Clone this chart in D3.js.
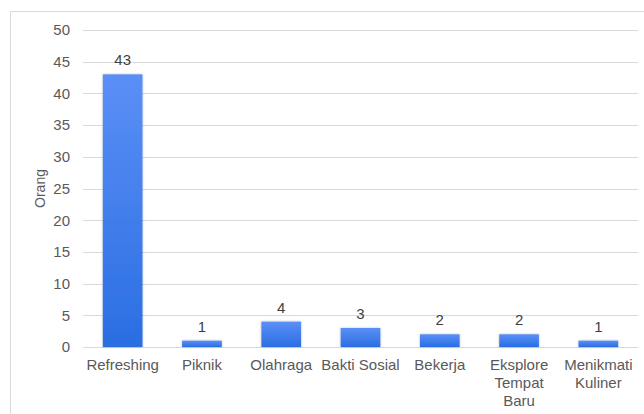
<!DOCTYPE html>
<html>
<head>
<meta charset="utf-8">
<script src="https://cdn.jsdelivr.net/npm/d3@7"></script>
<style>
  body { margin: 0; background: #fff; }
  text { font-family: "Liberation Sans", Arial, sans-serif; }
</style>
</head>
<body>
<svg id="chart"></svg>
<script>
// Data
const categories = ["Refreshing", "Piknik", "Olahraga", "Bakti Sosial", "Bekerja", "Eksplore Tempat Baru", "Menikmati Kuliner"];
const labelLines = [["Refreshing"], ["Piknik"], ["Olahraga"], ["Bakti Sosial"], ["Bekerja"], ["Eksplore", "Tempat", "Baru"], ["Menikmati", "Kuliner"]];
const values = [43, 1, 4, 3, 2, 2, 1];
const yTicks = [0, 5, 10, 15, 20, 25, 30, 35, 40, 45, 50];

const W = 644, H = 414;
const margin = { top: 30, right: 6, bottom: 67, left: 83 };
const width = W - margin.left - margin.right;
const height = H - margin.top - margin.bottom;

const svg = d3.select("#chart").attr("width", W).attr("height", H);

// gradient + shadow
const defs = svg.append("defs");
const grad = defs.append("linearGradient")
    .attr("id", "barGrad")
    .attr("x1", 0).attr("y1", 0).attr("x2", 0).attr("y2", 1);
grad.append("stop").attr("offset", "0%").attr("stop-color", "#5b8ff6");
grad.append("stop").attr("offset", "100%").attr("stop-color", "#2a6ee2");

const shadow = defs.append("filter").attr("id", "shadow")
    .attr("x", "-20%").attr("y", "-20%").attr("width", "140%").attr("height", "140%");
shadow.append("feDropShadow")
    .attr("dx", 0).attr("dy", 0).attr("stdDeviation", 1.2)
    .attr("flood-color", "#000").attr("flood-opacity", 0.3);

// outer border
svg.append("rect")
    .attr("x", 10.5).attr("y", 11.5)
    .attr("width", W + 10).attr("height", H + 10)
    .attr("fill", "none").attr("stroke", "#d9d9d9");

const g = svg.append("g").attr("transform", `translate(${margin.left},${margin.top})`);

const x = d3.scaleBand().domain(categories).range([0, width]).padding(0.5).paddingOuter(0.25);
const y = d3.scaleLinear().domain([0, 50]).range([height, 0]);

// grid lines
g.append("g")
  .selectAll("line")
  .data(yTicks)
  .join("line")
    .attr("x1", 0).attr("x2", width)
    .attr("y1", d => Math.round(y(d)) + 0.5)
    .attr("y2", d => Math.round(y(d)) + 0.5)
    .attr("stroke", "#d9d9d9");

// y axis labels
const yAxis = g.append("g")
    .call(d3.axisLeft(y).tickValues(yTicks).tickSize(0).tickPadding(13));
yAxis.select(".domain").remove();
yAxis.selectAll("text")
    .attr("font-family", "Liberation Sans, Arial, sans-serif")
    .attr("font-size", 15).attr("fill", "#595959");

// axis title
svg.append("text")
    .attr("transform", `translate(45, ${margin.top + height / 2}) rotate(-90)`)
    .attr("text-anchor", "middle")
    .attr("font-size", 14).attr("fill", "#595959")
    .text("Orang");

// bars
g.selectAll(".bar")
  .data(values)
  .join("rect")
    .attr("class", "bar")
    .attr("x", (d, i) => x(categories[i]))
    .attr("y", d => y(d))
    .attr("width", x.bandwidth())
    .attr("height", d => y(0) - y(d))
    .attr("fill", "url(#barGrad)")
    .attr("filter", "url(#shadow)");

// value labels
g.selectAll(".val")
  .data(values)
  .join("text")
    .attr("class", "val")
    .attr("x", (d, i) => x(categories[i]) + x.bandwidth() / 2)
    .attr("y", d => y(d) - 9)
    .attr("text-anchor", "middle")
    .attr("font-size", 15).attr("fill", "#404040")
    .text(d => d);

// category labels
const xl = g.selectAll(".cat")
  .data(labelLines)
  .join("text")
    .attr("class", "cat")
    .attr("text-anchor", "middle")
    .attr("font-size", 15).attr("fill", "#595959")
    .attr("transform", (d, i) => `translate(${x(categories[i]) + x.bandwidth() / 2}, ${height + 23})`);
xl.selectAll("tspan")
  .data(d => d)
  .join("tspan")
    .attr("x", 0)
    .attr("dy", (d, i) => i === 0 ? 0 : 18)
    .text(d => d);
</script>
</body>
</html>
